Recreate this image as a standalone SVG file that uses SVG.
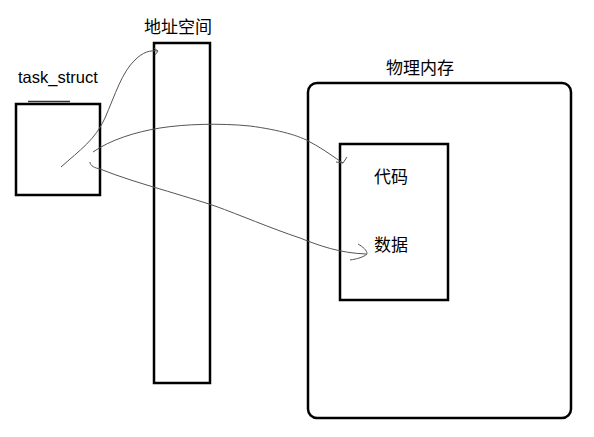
<svg xmlns="http://www.w3.org/2000/svg" width="594" height="437" viewBox="0 0 594 437">
<style>
.box{fill:none;stroke:#000;stroke-width:2.5}
.lbl{font-family:"Liberation Sans",sans-serif;font-size:16.5px;fill:#000}
.cn{font-family:"Noto Sans CJK SC",sans-serif;font-size:17px;fill:#000}
.c{fill:none;stroke:#555;stroke-width:1}
</style>
<rect width="594" height="437" fill="#fff"/>
<g id="task_struct">
<rect class="box" x="16" y="104" width="84" height="91"/>
<line x1="28" y1="101.5" x2="70" y2="101.5" stroke="#333" stroke-width="1.5"/>
<text class="lbl" x="18" y="83">task_struct</text>
</g>
<g id="address_space">
<rect class="box" x="154" y="43" width="56" height="340"/>
<text class="cn" x="144" y="33">地址空间</text>
</g>
<g id="physical_memory">
<rect class="box" x="308" y="83" width="263" height="335" rx="9"/>
<text class="cn" x="386" y="74">物理内存</text>
</g>
<g id="code_data">
<rect class="box" x="340" y="144" width="108" height="156"/>
<text class="cn" x="374" y="183">代码</text>
<text class="cn" x="374" y="251">数据</text>
</g>
<g id="connectors">
<path class="c" d="M61,167 C80,150 95,140 105,118 C115,95 122,72 135,60 C143,52 150,50 158,51"/>
<path class="c" d="M154,48 L158,51 L155,55"/>
<path class="c" d="M93,152 C110,140 135,132 160,128 C185,124 220,123 250,126 C280,130 300,136 310,142 C325,150 335,158 343,163"/>
<path class="c" d="M347,157 L343,163 L336,162"/>
<path class="c" d="M90,162 C90,166 95,168 100,169 C120,177 140,183 160,189 C180,195 200,201 215,206 C240,215 270,228 300,238 C320,246 340,253 366,254"/>
<path class="c" d="M358,244 C363,247 367,250 367,254 C364,257 357,259 350,260"/>
</g>
</svg>
